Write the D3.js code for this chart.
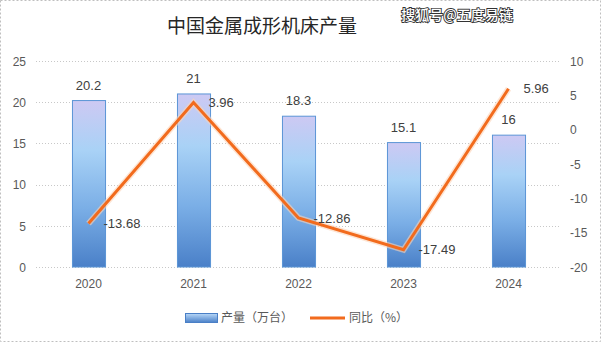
<!DOCTYPE html>
<html><head><meta charset="utf-8">
<script src="https://cdn.jsdelivr.net/npm/d3@7/dist/d3.min.js"></script>
<style>
html,body{margin:0;padding:0;background:#fff;}
svg{display:block;font-family:"Liberation Sans","DejaVu Sans",sans-serif;}
</style></head>
<body>
<script>
const categories = ["2020","2021","2022","2023","2024"];
const output = [20.2, 21, 18.3, 15.1, 16];
const yoy = [-13.68, 3.96, -12.86, -17.49, 5.96];
const leftTicks = [0,5,10,15,20,25];
const rightTicks = [-20,-15,-10,-5,0,5,10];
const title = "中国金属成形机床产量";
const barName = "产量（万台）";
const lineName = "同比（%）";
const watermark = "搜狐号@五度易链";

(function(){
const W = 601, H = 342;
const svg = d3.select("body").append("svg").attr("width", W).attr("height", H);
const defs = svg.append("defs");
const grad = defs.append("linearGradient").attr("id","barGrad").attr("x1",0).attr("y1",0).attr("x2",0).attr("y2",1);
grad.append("stop").attr("offset","0%").attr("stop-color","#cdc9f3");
grad.append("stop").attr("offset","30%").attr("stop-color","#a9d2f6");
grad.append("stop").attr("offset","65%").attr("stop-color","#7aaee6");
grad.append("stop").attr("offset","100%").attr("stop-color","#4a80c8");
const lgrad = defs.append("linearGradient").attr("id","legGrad").attr("x1",0).attr("y1",0).attr("x2",0).attr("y2",1);
lgrad.append("stop").attr("offset","0%").attr("stop-color","#b8d8f8");
lgrad.append("stop").attr("offset","100%").attr("stop-color","#4a80c8");

// outer border
svg.append("rect").attr("x",0.5).attr("y",0.5).attr("width",W-1).attr("height",H-1)
  .attr("fill","none").attr("stroke","#bfbfbf").attr("stroke-dasharray","2,2");

const pL = 36, pR = 561, pT = 61, pB = 267;
const x = d3.scaleBand().domain(categories).range([pL,pR]).paddingInner(0.685).paddingOuter(0.3425);
const yL = d3.scaleLinear().domain([0,25]).range([pB, pT]);
const yR = d3.scaleLinear().domain([-20,10]).range([pB, pT]);
const cx = d => x(d) + x.bandwidth()/2;
const fmt = d => String(d);

// gridlines
svg.append("g").selectAll("line").data(leftTicks).join("line")
  .attr("x1",pL).attr("x2",pR)
  .attr("y1",d=>Math.round(yL(d))+0.5).attr("y2",d=>Math.round(yL(d))+0.5)
  .attr("stroke","#c8c8c8").attr("stroke-dasharray","1,2");

// left axis
const axL = d3.axisLeft(yL).tickValues(leftTicks).tickFormat(fmt).tickSize(0).tickPadding(0);
const gL = svg.append("g").attr("transform",`translate(${pL-10},0)`).call(axL);
gL.select(".domain").remove();
gL.selectAll("text").attr("fill","#595959").style("font-size","12px").attr("dy","0.35em");

// right axis
const axR = d3.axisRight(yR).tickValues(rightTicks).tickFormat(fmt).tickSize(0).tickPadding(0);
const gR = svg.append("g").attr("transform",`translate(${pR+9},0)`).call(axR);
gR.select(".domain").remove();
gR.selectAll("text").attr("fill","#595959").style("font-size","12px").attr("dy","0.35em");

// x axis
const axX = d3.axisBottom(x).tickSize(0).tickPadding(0);
const gX = svg.append("g").attr("transform",`translate(0,${pB+12})`).call(axX);
gX.select(".domain").remove();
gX.selectAll("text").attr("fill","#595959").style("font-size","12px").attr("dy","0.71em");

// bars
svg.append("g").selectAll("rect").data(categories).join("rect")
  .attr("x",d=>x(d)+0.5).attr("width",x.bandwidth())
  .attr("y",(d,i)=>yL(output[i])).attr("height",(d,i)=>yL(0)-yL(output[i]))
  .attr("fill","url(#barGrad)").attr("stroke","#5b95d6").attr("stroke-width",1);

// bar labels
svg.append("g").selectAll("text").data(categories).join("text")
  .attr("x",d=>cx(d)).attr("y",(d,i)=>yL(output[i])-11)
  .attr("text-anchor","middle").attr("fill","#404040").style("font-size","13px")
  .text((d,i)=>output[i]);

// line
const line = d3.line().x((d,i)=>cx(categories[i])).y(d=>yR(d));
svg.append("path").datum(yoy).attr("d",line).attr("fill","none")
  .attr("stroke","#fbd3b8").attr("stroke-width",6).attr("opacity",0.6);
svg.append("path").datum(yoy).attr("d",line).attr("fill","none")
  .attr("stroke","#f26b1d").attr("stroke-width",3).attr("stroke-linejoin","miter");

// line labels
svg.append("g").selectAll("text").data(categories).join("text")
  .attr("x",d=>cx(d)+15).attr("y",(d,i)=>yR(yoy[i]))
  .attr("dy","0.35em").attr("fill","#404040").style("font-size","13px")
  .text((d,i)=>yoy[i]);

// title
svg.append("text").attr("x",262).attr("y",33).attr("text-anchor","middle")
  .attr("fill","#262626").style("font-family","'Noto Sans CJK SC'").style("font-size","19px")
  .text(title);

// watermark
svg.append("text").attr("x",457).attr("y",20).attr("text-anchor","middle")
  .attr("fill","#ffffff").attr("stroke","#333").attr("stroke-width",1.8).style("paint-order","stroke")
  .style("font-family","'Noto Sans CJK SC'").style("font-size","14px").style("font-weight","500")
  .text(watermark);

// legend
const lg = svg.append("g");
lg.append("rect").attr("x",185.5).attr("y",313.5).attr("width",32).attr("height",9)
  .attr("fill","url(#legGrad)").attr("stroke","#4a7fc6");
lg.append("text").attr("x",221).attr("y",318).attr("dy","0.35em").attr("fill","#595959")
  .style("font-family","'Noto Sans CJK SC'").style("font-size","12px").text(barName);
lg.append("line").attr("x1",310).attr("x2",345).attr("y1",318).attr("y2",318)
  .attr("stroke","#f26b1d").attr("stroke-width",3);
lg.append("text").attr("x",349).attr("y",318).attr("dy","0.35em").attr("fill","#595959")
  .style("font-family","'Noto Sans CJK SC'").style("font-size","12px").text(lineName);
})();
</script>
</body></html>
